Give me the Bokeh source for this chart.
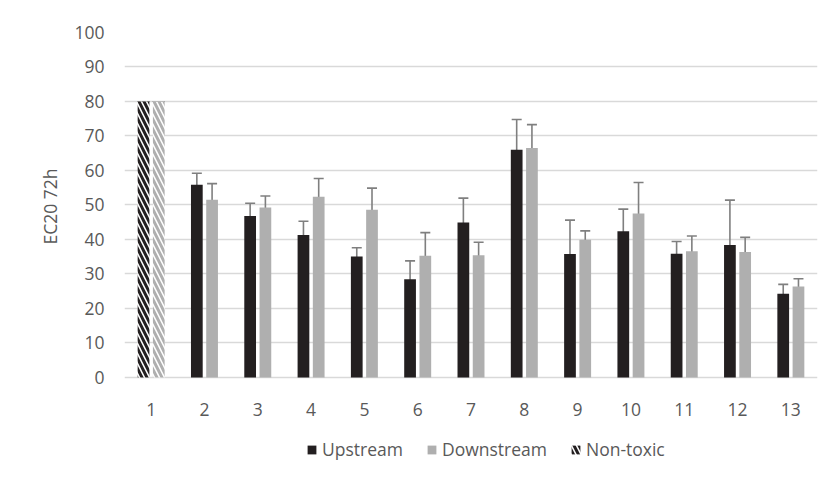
from bokeh.plotting import figure
from bokeh.models import (ColumnDataSource, FactorRange, Range1d, Whisker, TeeHead,
                          Legend, LegendItem, FixedTicker, Title)
from bokeh.core.properties import value
from bokeh.transform import dodge
from bokeh.embed import file_html
from bokeh.resources import INLINE

# ---- data ----
categories = ["1", "2", "3", "4", "5", "6", "7", "8", "9", "10", "11", "12", "13"]
data_cats = categories[1:]
upstream = [55.9, 46.8, 41.3, 35.1, 28.5, 44.9, 66.0, 35.8, 42.4, 35.9, 38.4, 24.3]
upstream_hi = [59.2, 50.5, 45.3, 37.6, 33.8, 52.0, 74.8, 45.6, 48.8, 39.4, 51.4, 27.0]
upstream_lo = [53.1, 43.0, 37.6, 32.1, 23.5, 44.3, 58.1, 30.1, 37.1, 33.5, 33.5, 21.6]
downstream = [51.5, 49.3, 52.4, 48.6, 35.3, 35.4, 66.5, 39.9, 47.5, 36.6, 36.4, 26.4]
downstream_hi = [56.2, 52.6, 57.7, 54.9, 42.0, 39.2, 73.3, 42.5, 56.5, 41.0, 40.6, 28.6]
downstream_lo = [47.3, 45.9, 47.6, 42.6, 29.7, 30.5, 55.9, 36.1, 41.4, 32.3, 32.4, 24.0]
nontoxic_cats = ["1"]
nontoxic_value = [80]
y_ticks = [0, 10, 20, 30, 40, 50, 60, 70, 80, 90, 100]

TXT = "#595959"
FONT = "Open Sans"
UP = "#231F20"
DOWN = "#AFAFAF"
ERR = "#7F7F7F"

src = ColumnDataSource(dict(cat=data_cats, up=upstream, up_hi=upstream_hi, up_lo=upstream_lo,
                            down=downstream, down_hi=downstream_hi, down_lo=downstream_lo))
nsrc = ColumnDataSource(dict(cat=nontoxic_cats, val=nontoxic_value))
csrc = ColumnDataSource(dict(cat=categories))

# frame extends below the value axis so that the legend can live inside it
p = figure(x_range=FactorRange(factors=categories, range_padding=0),
           y_range=Range1d(-26.96, 100),
           width=832, height=474, output_backend="svg", toolbar_location=None,
           min_border_left=124, min_border_right=15, min_border_top=32, min_border_bottom=4)

OFF = 0.143
W = 0.22

r_up = p.vbar(x=dodge("cat", -OFF, range=p.x_range), top="up", width=W, source=src,
              fill_color=UP, line_color=None)
r_down = p.vbar(x=dodge("cat", OFF, range=p.x_range), top="down", width=W, source=src,
                fill_color=DOWN, line_color=None)
r_nt1 = p.vbar(x=dodge("cat", -OFF, range=p.x_range), top="val", width=W, source=nsrc,
               fill_color="white", line_color=None, hatch_pattern="\\",
               hatch_color=UP, hatch_weight=3, hatch_scale=10)
r_nt2 = p.vbar(x=dodge("cat", OFF, range=p.x_range), top="val", width=W, source=nsrc,
               fill_color="white", line_color=None, hatch_pattern="\\",
               hatch_color=DOWN, hatch_weight=3, hatch_scale=10)

for off, hi, lo in [(-OFF, "up_hi", "up_lo"), (OFF, "down_hi", "down_lo")]:
    w = Whisker(base=dodge("cat", off, range=p.x_range), upper=hi, lower=lo, source=src,
                line_color=ERR, line_width=1.6,
                upper_head=TeeHead(size=10, line_color=ERR, line_width=1.6),
                lower_head=TeeHead(size=10, line_color=ERR, line_width=1.6))
    p.add_layout(w)
for off in (-OFF, OFF):
    w = Whisker(base=dodge("cat", off, range=p.x_range), upper="val", lower="val", source=nsrc,
                line_color=ERR, line_width=1.2,
                upper_head=TeeHead(size=12, line_color=ERR, line_width=1.2),
                lower_head=TeeHead(size=12, line_color=ERR, line_width=1.2))
    p.add_layout(w)

# category labels under the zero line
p.text(x="cat", y=0, text="cat", source=csrc, y_offset=32,
       text_align="center", text_baseline="middle",
       text_font=value(FONT), text_font_size="17.5px", text_color=TXT)

p.xaxis.visible = False
p.xgrid.grid_line_color = None
p.ygrid.grid_line_color = "#D9D9D9"
p.ygrid.grid_line_width = 1.3
p.outline_line_color = None
p.background_fill_color = "white"

ya = p.yaxis[0]
ya.ticker = FixedTicker(ticks=y_ticks)
ya.axis_line_color = None
ya.major_tick_line_color = None
ya.minor_tick_line_color = None
ya.major_label_text_font = FONT
ya.major_label_text_font_size = "17.5px"
ya.major_label_text_color = TXT
ya.major_label_standoff = 14

ytitle = Title(text="EC20 72h", align="left", offset=226, standoff=19,
               text_font=FONT, text_font_size="17.5px", text_color=TXT,
               text_font_style="normal")
p.add_layout(ytitle, "left")

legend = Legend(items=[LegendItem(label="Upstream", renderers=[r_up]),
                       LegendItem(label="Downstream", renderers=[r_down]),
                       LegendItem(label="Non-toxic", renderers=[r_nt1])],
                location=(182, 9), orientation="horizontal",
                glyph_width=11, glyph_height=11, label_standoff=5, spacing=23,
                padding=0, margin=0, border_line_color=None, background_fill_alpha=0,
                label_text_font=FONT, label_text_font_size="17.5px", label_text_color=TXT)
p.add_layout(legend)

open("out.html", "w").write(file_html(p, INLINE))
